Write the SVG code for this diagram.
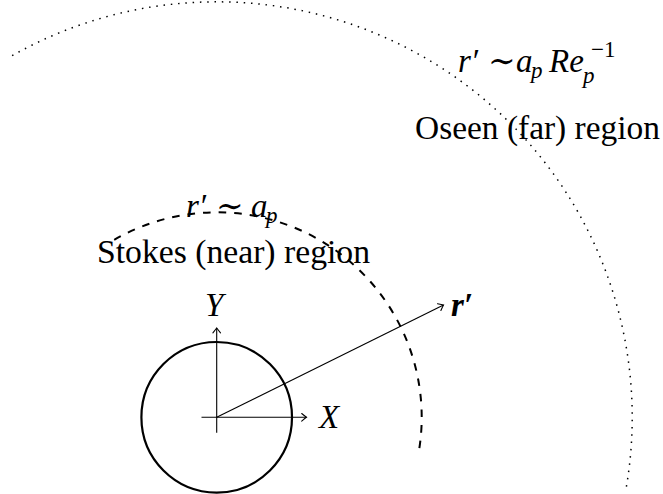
<svg xmlns="http://www.w3.org/2000/svg" width="663" height="494" viewBox="0 0 663 494">
<style>
  .t { font-family: "Liberation Serif", "DejaVu Serif", serif; font-size: 33px; fill: #000; }
  .it { font-style: italic; }
  .sym { font-family: "DejaVu Serif", "Liberation Serif", serif; font-style: normal; }
  .sub { font-size: 23px; }
  .axis { fill: none; stroke: #000; stroke-width: 1.1; }
</style>
<defs>
  <marker id="arr" markerUnits="userSpaceOnUse" markerWidth="12" markerHeight="12" viewBox="-6 -6 12 12" refX="0" refY="0" orient="auto" overflow="visible">
    <path d="M -4.8 -3.8 Q -1.2 -0.8 0 0 Q -1.2 0.8 -4.8 3.8" fill="none" stroke="#000" stroke-width="1.1" stroke-linecap="round"/>
  </marker>
</defs>

<g id="labels">
  <text id="stokes-label" class="t" x="97" y="263" textLength="273" lengthAdjust="spacingAndGlyphs">Stokes (near) region</text>
  <text id="oseen-label" class="t" x="415" y="139" textLength="245" lengthAdjust="spacingAndGlyphs">Oseen (far) region</text>
  <text id="near-radius" class="t"><tspan class="it" x="186" y="217">r′</tspan><tspan class="sym" x="216" y="217">∼</tspan><tspan class="it" x="251" y="217">a</tspan><tspan class="it sub" x="266" y="223">p</tspan></text>
  <text id="far-radius" class="t"><tspan class="it" x="458" y="72">r′</tspan><tspan class="sym" x="488" y="72">∼</tspan><tspan class="it" x="516" y="72">a</tspan><tspan class="it sub" x="531" y="78">p</tspan><tspan class="it" x="549" y="72">Re</tspan><tspan class="it sub" x="583" y="83">p</tspan><tspan class="sub" x="591" y="57">−1</tspan></text>
</g>

<g id="particle">
  <circle cx="216.7" cy="417.3" r="75.3" fill="none" stroke="#000" stroke-width="2.2"/>
</g>

<g id="connectors">
  <line id="x-axis" class="axis" x1="201.5" y1="417.3" x2="306.5" y2="417.3" marker-end="url(#arr)"/>
  <line id="y-axis" class="axis" x1="216.7" y1="432.7" x2="216.7" y2="328" marker-end="url(#arr)"/>
  <line id="r-vector" class="axis" x1="216.7" y1="417.3" x2="443.5" y2="305" marker-end="url(#arr)"/>
  <path id="near-boundary" d="M 114.2 239.8 A 205 205 0 0 1 418.6 452.9" fill="none" stroke="#000" stroke-width="2" stroke-dasharray="7.6 8"/>
  <path id="far-boundary" d="M 12.1 55.7 A 415.5 415.5 0 0 1 625.9 489.5" fill="none" stroke="#000" stroke-width="1.5" stroke-dasharray="1.5 5.8"/>
</g>

<g id="axis-labels">
  <text id="x-label" class="t it" x="319" y="428">X</text>
  <text id="y-label" class="t it" x="205" y="316">Y</text>
  <text id="r-label" class="t it" x="451" y="316" font-weight="bold">r′</text>
</g>
</svg>
